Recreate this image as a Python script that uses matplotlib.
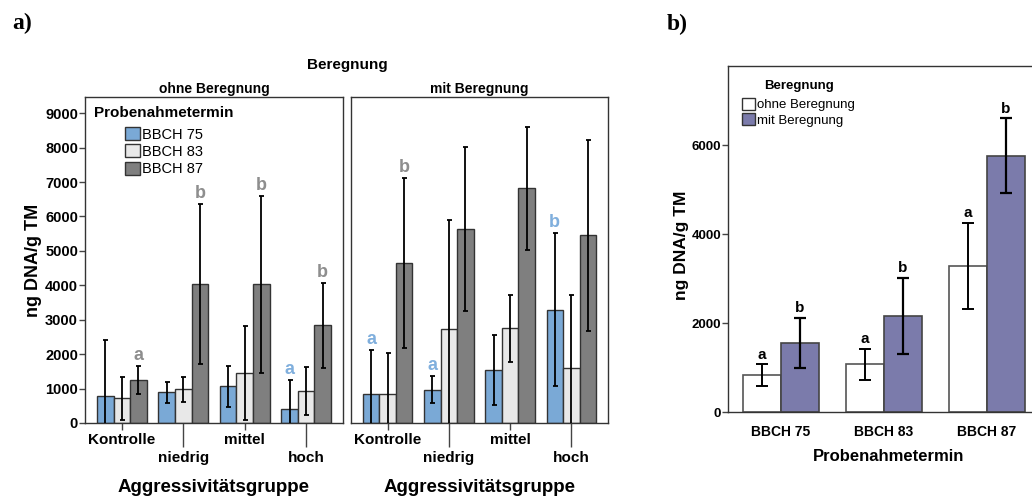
import numpy as np
import matplotlib
matplotlib.use("Agg")
import matplotlib.pyplot as plt
from matplotlib.patches import Patch

plt.rcParams["font.family"] = ["Liberation Sans", "DejaVu Sans"]

# ---------------- data ----------------
groups = ["Kontrolle", "niedrig", "mittel", "hoch"]
stages = ["BBCH 75", "BBCH 83", "BBCH 87"]

# without irrigation: means and half-widths of error bars
ohne_75 = [774, 890, 1065, 406]
ohne_75_err = [1645, 300, 600, 833]
ohne_83 = [716, 977, 1452, 939]
ohne_83_err = [620, 359, 1354, 700]
ohne_87 = [1248, 4035, 4026, 2835]
ohne_87_err = [400, 2330, 2570, 1230]

# with irrigation
mit_75 = [852, 968, 1529, 3290]
mit_75_err = [1267, 387, 1016, 2216]
mit_83 = [852, 2719, 2748, 1587]
mit_83_err = [1190, 3175, 968, 2139]
mit_87 = [4645, 5642, 6813, 5449]
mit_87_err = [2463, 2376, 1795, 2777]

# significance letters
ohne_75_letters = ["", "", "", "a"]
ohne_87_letters = ["a", "b", "b", "b"]
mit_75_letters = ["a", "a", "", "b"]
mit_87_letters = ["b", "", "", ""]

# panel b: totals per sampling date
termine = ["BBCH 75", "BBCH 83", "BBCH 87"]
b_ohne = [838, 1078, 3281]
b_ohne_err = [240, 348, 970]
b_mit = [1557, 2164, 5766]
b_mit_err = [568, 861, 836]
b_ohne_letters = ["a", "a", "a"]
b_mit_letters = ["b", "b", "b"]

# ---------------- style ----------------
C75 = "#7aa9d6"
C83 = "#e8e8e8"
C87 = "#7f7f7f"
CPURPLE = "#7b7bab"
LET_GREY = "#8e8e8e"
LET_BLUE = "#80afdd"
EDGE = "#333333"

W, H = 1032, 497
fig = plt.figure(figsize=(W / 100, H / 100), dpi=100)


def fbox(x0, x1, ytop, ybot):
    return [x0 / W, 1 - ybot / H, (x1 - x0) / W, (ybot - ytop) / H]


axL = fig.add_axes(fbox(85, 343, 97, 423))
axR = fig.add_axes(fbox(351, 608, 97, 423))
axB = fig.add_axes(fbox(728, 728 + 3.115 * 103, 66, 412.3))

x = np.arange(len(groups))
bw = 0.27


def draw_panel(ax, series, errs, letters):
    cols = [C75, C83, C87]
    offs = [-bw, 0, bw]
    for vals, err, col, off, let in zip(series, errs, cols, offs, letters):
        ax.bar(x + off, vals, width=bw, color=col, edgecolor=EDGE,
               linewidth=1.0, zorder=2)
        ax.errorbar(x + off, vals, yerr=err, fmt="none", ecolor="black",
                    elinewidth=1.3, capsize=1.8, capthick=1.3, zorder=3)
        if let is None:
            continue
        for xi, v, e, l in zip(x + off, vals, err, let):
            if l:
                lc = LET_BLUE if col == C75 else LET_GREY
                ax.annotate(l, (xi, v + e), xytext=(0, 1.5),
                            textcoords="offset points", ha="center",
                            va="bottom", fontsize=13, fontweight="bold",
                            color=lc, zorder=4)
    ax.set_xlim(-0.6, 3.6)
    ax.set_ylim(0, 9470)
    for s in ax.spines.values():
        s.set_color(EDGE)
        s.set_linewidth(1.0)
    ax.set_xticks([0, 2], [groups[0], groups[2]])
    ax.set_xticks([1, 3], [groups[1], groups[3]], minor=True)
    ax.tick_params(axis="x", which="major", length=5, width=1,
                   color="#444444", pad=2.5, labelsize=11)
    ax.tick_params(axis="x", which="minor", length=17, width=1,
                   color="#444444", pad=3.5, labelsize=11)
    for lab in ax.get_xticklabels(which="both"):
        lab.set_fontweight("bold")
    ax.set_xlabel("Aggressivitätsgruppe", fontsize=13.5, fontweight="bold",
                  labelpad=10)


draw_panel(axL, [ohne_75, ohne_83, ohne_87],
           [ohne_75_err, ohne_83_err, ohne_87_err],
           [ohne_75_letters, None, ohne_87_letters])
draw_panel(axR, [mit_75, mit_83, mit_87],
           [mit_75_err, mit_83_err, mit_87_err],
           [mit_75_letters, None, mit_87_letters])

axL.set_yticks(np.arange(0, 9001, 1000))
axL.tick_params(axis="y", length=4, width=1, color="#444444", pad=1,
                labelsize=10.5)
for lab in axL.get_yticklabels():
    lab.set_fontweight("bold")
axL.set_ylabel("ng DNA/g TM", fontsize=13, fontweight="bold", labelpad=2)
axR.set_yticks([])

axL.set_title("ohne Beregnung", fontsize=10, fontweight="bold", pad=3)
axR.set_title("mit Beregnung", fontsize=10, fontweight="bold", pad=3)
fig.text(347 / W, 1 - 65 / H, "Beregnung", ha="center", va="center",
         fontsize=11, fontweight="bold")

# legend for panel a
axL.text(94 / W, 1 - 113 / H, "Probenahmetermin", transform=fig.transFigure,
         ha="left", va="center", fontsize=11, fontweight="bold")
handles_a = [Patch(facecolor=c, edgecolor=EDGE, linewidth=1.0)
             for c in (C75, C83, C87)]
axL.legend(handles_a, stages, loc="upper left",
           bbox_to_anchor=(125 / W, 1 - 127 / H),
           bbox_transform=fig.transFigure, frameon=False, fontsize=10.5,
           handlelength=1.0, handleheight=1.0, handletextpad=0.15,
           labelspacing=0.2, borderpad=0, borderaxespad=0)

# ---------------- panel b ----------------
xb = np.arange(len(termine))
wb = 0.369
axB.bar(xb - wb / 2, b_ohne, width=wb, color="white", edgecolor="#555555",
        linewidth=1.2, zorder=2)
axB.bar(xb + wb / 2, b_mit, width=wb, color=CPURPLE, edgecolor="#444444",
        linewidth=1.2, zorder=2)
axB.errorbar(xb - wb / 2, b_ohne, yerr=b_ohne_err, fmt="none", ecolor="black",
             elinewidth=1.4, capsize=4, capthick=1.4, zorder=3)
axB.errorbar(xb + wb / 2, b_mit, yerr=b_mit_err, fmt="none", ecolor="black",
             elinewidth=1.6, capsize=4, capthick=1.6, zorder=3)
for xi, v, e, l in zip(xb - wb / 2, b_ohne, b_ohne_err, b_ohne_letters):
    axB.annotate(l, (xi, v + e), xytext=(0, 2), textcoords="offset points",
                 ha="center", va="bottom", fontsize=11, fontweight="bold")
for xi, v, e, l in zip(xb + wb / 2, b_mit, b_mit_err, b_mit_letters):
    axB.annotate(l, (xi, v + e), xytext=(0, 2), textcoords="offset points",
                 ha="center", va="bottom", fontsize=11, fontweight="bold")

axB.set_xlim(-0.515, 2.6)
axB.set_ylim(0, 7780)
axB.set_yticks([0, 2000, 4000, 6000])
axB.tick_params(axis="y", length=4, width=1, color="#444444", pad=1,
                labelsize=9.5)
axB.set_xticks(xb, termine)
axB.tick_params(axis="x", length=0, pad=9, labelsize=10)
for lab in axB.get_xticklabels() + axB.get_yticklabels():
    lab.set_fontweight("bold")
for s in axB.spines.values():
    s.set_color(EDGE)
    s.set_linewidth(1.0)
axB.set_xlabel("Probenahmetermin", fontsize=12, fontweight="bold",
               labelpad=7)
axB.set_ylabel("ng DNA/g TM", fontsize=12.5, fontweight="bold")
axB.yaxis.set_label_coords(-0.12, 0.483)

axB.text(799 / W, 1 - 86 / H, "Beregnung", transform=fig.transFigure,
         ha="center", va="center", fontsize=9.5, fontweight="bold")
handles_b = [Patch(facecolor="white", edgecolor="#333333", linewidth=1.0),
             Patch(facecolor=CPURPLE, edgecolor="#333333", linewidth=1.0)]
axB.legend(handles_b, ["ohne Beregnung", "mit Beregnung"], loc="upper left",
           bbox_to_anchor=(742 / W, 1 - 98 / H),
           bbox_transform=fig.transFigure, frameon=False, fontsize=9.5,
           handlelength=1.0, handleheight=1.0, handletextpad=0.1,
           labelspacing=0.15, borderpad=0, borderaxespad=0)

# panel tags
fig.text(12 / W, 1 - 23 / H, "a)", family="Liberation Serif",
         fontweight="bold", fontsize=17, ha="left", va="center")
fig.text(667 / W, 1 - 24 / H, "b)", family="Liberation Serif",
         fontweight="bold", fontsize=17, ha="left", va="center")

fig.savefig("out.png", dpi=100)
